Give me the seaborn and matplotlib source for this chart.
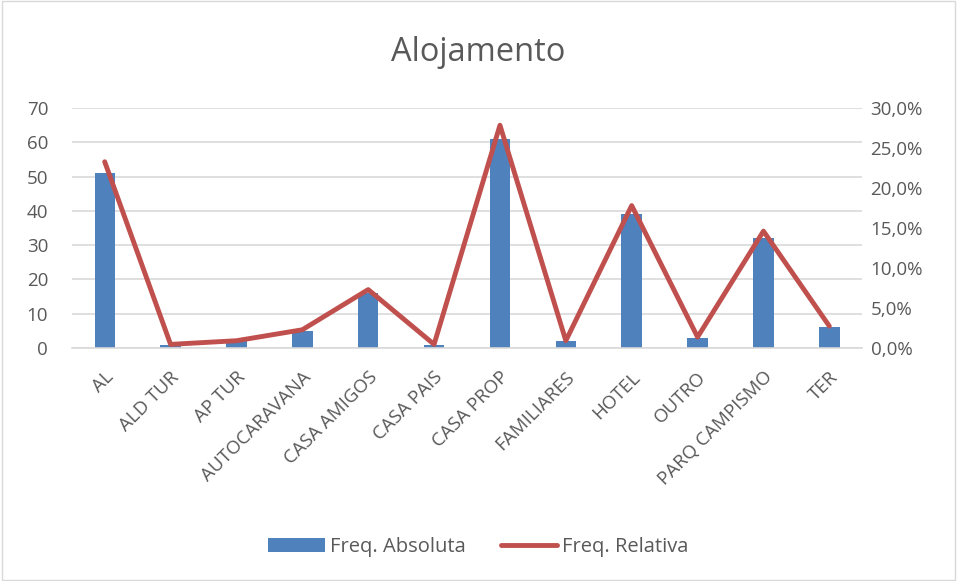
import numpy as np
import pandas as pd
import matplotlib
matplotlib.use("Agg")
import matplotlib.pyplot as plt
import matplotlib.ticker as mticker
import matplotlib.transforms as mtransforms
import seaborn as sns

# --- data ---
categories = ["AL", "ALD TUR", "AP TUR", "AUTOCARAVANA", "CASA AMIGOS", "CASA PAIS",
              "CASA PROP", "FAMILIARES", "HOTEL", "OUTRO", "PARQ CAMPISMO", "TER"]
freq_abs = [51, 1, 2, 5, 16, 1, 61, 2, 39, 3, 32, 6]
freq_rel = [a / sum(freq_abs) for a in freq_abs]

df = pd.DataFrame({"cat": categories, "abs": freq_abs, "rel": freq_rel})

bar_blue = "#4F81BD"
line_red = "#C0504D"
grid_gray = "#D9D9D9"
text_gray = "#595959"

sns.set_style("white")
plt.rcParams['font.family'] = ['Open Sans', 'DejaVu Sans']

fig = plt.figure(figsize=(9.57, 5.81), dpi=100)
ax = fig.add_axes([0.075, 0.401, 0.826, 0.413])

sns.barplot(data=df, x="cat", y="abs", color=bar_blue, width=0.31, ax=ax,
            saturation=1, label="Freq. Absoluta", linewidth=0, zorder=2)
ax.set_ylim(0, 70)
ax.set_yticks(range(0, 71, 10))
ax.set_xlim(-0.5, len(categories) - 0.5)
ax.grid(axis="y", color=grid_gray, linewidth=1.2, zorder=0)
ax.set_axisbelow(True)
ax.set_xlabel("")
ax.set_ylabel("")

ax2 = ax.twinx()
sns.lineplot(data=df, x="cat", y="rel", color=line_red, linewidth=3.5, ax=ax2,
             label="Freq. Relativa", legend=False)
ax2.set_ylim(0, 0.30)
ax2.set_yticks(np.arange(0, 0.31, 0.05))
ax2.yaxis.set_major_formatter(mticker.FuncFormatter(lambda v, p: f"{v*100:.1f}%".replace(".", ",")))
ax2.set_ylabel("")
ax2.set_xlim(-0.5, len(categories) - 0.5)

for a in (ax, ax2):
    for s in a.spines.values():
        s.set_visible(False)
    a.tick_params(axis="both", length=0, labelsize=13.5, colors=text_gray)
ax.spines["bottom"].set_visible(True)
ax.spines["bottom"].set_color(grid_gray)
ax.spines["bottom"].set_linewidth(1.2)
ax.tick_params(axis="y", pad=17)
ax2.tick_params(axis="y", pad=6)

ax.tick_params(axis="x", pad=19)
shift = mtransforms.ScaledTranslation(6 / 100, 0, fig.dpi_scale_trans)
for lbl in ax.get_xticklabels():
    lbl.set_rotation(45)
    lbl.set_ha("right")
    lbl.set_va("center")
    lbl.set_rotation_mode("anchor")
    lbl.set_transform(lbl.get_transform() + shift)

fig.suptitle("Alojamento", y=0.91, va="center", fontsize=23.5, color=text_gray)

h1, l1 = ax.get_legend_handles_labels()
h2, l2 = ax2.get_legend_handles_labels()
if ax.get_legend():
    ax.get_legend().remove()
fig.legend(h1 + h2, l1 + l2, loc="center", bbox_to_anchor=(0.5, 0.059), ncol=2,
           frameon=False, fontsize=14.5, labelcolor=text_gray, handlelength=2.8,
           handletextpad=0.25, columnspacing=1.75)

fig.patches.append(matplotlib.patches.Rectangle((0.002, 0.002), 0.996, 0.996,
                   transform=fig.transFigure, fill=False, edgecolor=grid_gray, linewidth=1))

fig.savefig("out.png", dpi=100)
